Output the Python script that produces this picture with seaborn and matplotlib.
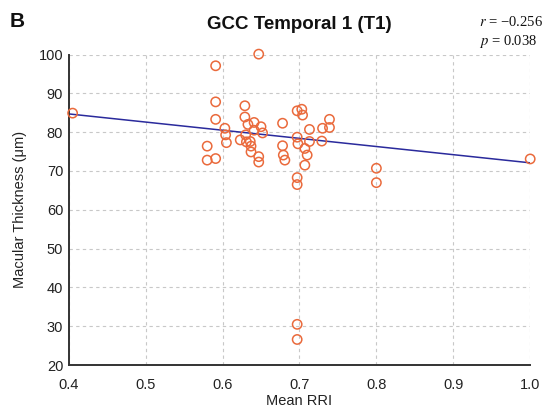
import numpy as np
import pandas as pd
import matplotlib
matplotlib.use("Agg")
import matplotlib.pyplot as plt
import seaborn as sns

# values
mean_rri = [0.405,
            0.580, 0.580, 0.591, 0.591, 0.591, 0.591,
            0.603, 0.604, 0.605,
            0.623, 0.629, 0.629, 0.630, 0.631, 0.633,
            0.636, 0.637, 0.637, 0.641, 0.641,
            0.650, 0.652, 0.647, 0.647, 0.647,
            0.678, 0.678, 0.679, 0.681,
            0.697, 0.703, 0.704, 0.697, 0.698,
            0.707, 0.710, 0.707, 0.697, 0.697, 0.697, 0.697,
            0.713, 0.713, 0.729, 0.730, 0.739, 0.739,
            0.800, 0.800, 1.000]
thickness = [84.9,
             76.4, 72.8, 97.1, 87.8, 83.3, 73.2,
             81.0, 79.3, 77.3,
             78.0, 86.8, 83.9, 79.3, 77.5, 82.0,
             77.6, 76.4, 74.9, 82.5, 80.5,
             81.4, 79.8, 73.7, 72.3, 100.1,
             82.3, 76.5, 74.1, 72.8,
             85.5, 85.9, 84.4, 78.7, 77.0,
             75.8, 74.1, 71.5, 68.3, 66.5, 30.5, 26.6,
             80.7, 77.6, 77.7, 81.0, 81.2, 83.3,
             70.7, 67.0, 73.1]

# fitted line as drawn in the reference
fit_rri = [0.4, 1.0]
fit_thickness = [84.7, 72.1]

x_ticks = [0.4, 0.5, 0.6, 0.7, 0.8, 0.9, 1.0]
y_ticks = [20, 30, 40, 50, 60, 70, 80, 90, 100]

df = pd.DataFrame({"rri": mean_rri, "thick": thickness})
fit_df = pd.DataFrame({"rri": fit_rri, "thick": fit_thickness})

sns.set_theme(style="white")
plt.rcParams["font.family"] = ["Liberation Sans", "DejaVu Sans"]
plt.rcParams["mathtext.fontset"] = "stix"

fig, ax = plt.subplots(figsize=(5.5, 4.13), dpi=100)
fig.subplots_adjust(left=0.125, right=0.964, top=0.868, bottom=0.116)

ax.grid(True, linestyle=(0, (3, 3)), color="#c8c8c8", linewidth=0.8)
ax.set_axisbelow(True)

sns.lineplot(data=fit_df, x="rri", y="thick", color="#2a2a9c", linewidth=1.1, ax=ax)
sns.scatterplot(data=df, x="rri", y="thick", marker="o", s=45,
                facecolor="none", edgecolor="#ea6a3c", linewidth=1.1, ax=ax,
                zorder=3, clip_on=False)

ax.set_xlim(0.4, 1.0)
ax.set_ylim(20, 100)
ax.set_xticks(x_ticks)
ax.set_xticklabels([f"{t:.1f}" for t in x_ticks])
ax.set_yticks(y_ticks)

for side in ["top", "right"]:
    ax.spines[side].set_visible(False)
for side in ["left", "bottom"]:
    ax.spines[side].set_color("#333333")
    ax.spines[side].set_linewidth(1.4)
ax.tick_params(direction="in", length=4, width=1, colors="#333333",
               labelcolor="#222222", labelsize=10.5)
ax.tick_params(axis="x", pad=9)
ax.tick_params(axis="y", pad=4)

ax.set_xlabel("Mean RRI", fontsize=10.5, color="#222222", labelpad=2)
ax.set_ylabel("Macular Thickness (μm)", fontsize=10.5, color="#222222", labelpad=8)

fig.text(0.545, 0.940, "GCC Temporal 1 (T1)", ha="center", va="center",
         fontsize=13.5, fontweight="bold", color="#111111")
fig.text(0.018, 0.947, "B", ha="left", va="center", fontsize=15,
         fontweight="bold", color="#111111")
fig.text(0.871, 0.947, "$r$ = \u22120.256", ha="left", va="center",
         fontsize=10.5, family="Liberation Serif", color="#111111")
fig.text(0.871, 0.900, "$p$ = 0.038", ha="left", va="center",
         fontsize=10.5, family="Liberation Serif", color="#111111")

fig.savefig("out.png", dpi=100)
